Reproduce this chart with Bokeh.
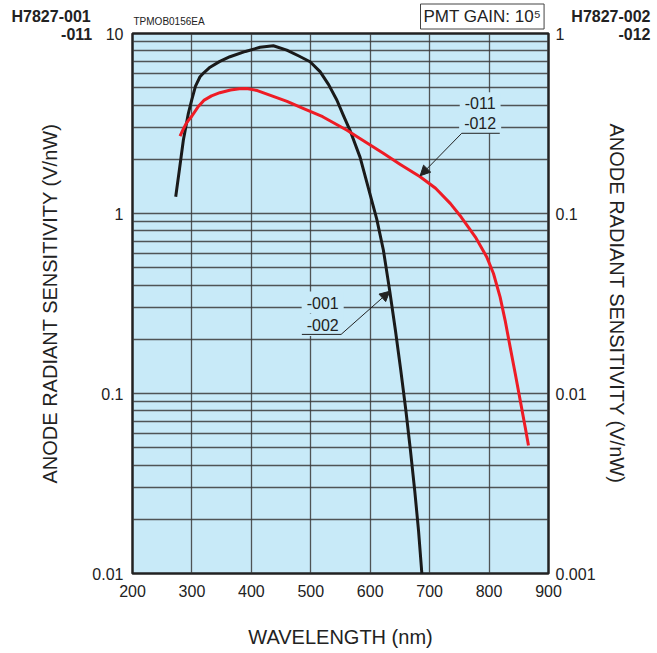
from bokeh.plotting import figure
from bokeh.models import (Range1d, LogScale, LogAxis, FixedTicker, CustomJSTickFormatter,
                          Label, Arrow, NormalHead, Title)
from bokeh.embed import file_html
from bokeh.resources import INLINE

# ---------------- data ----------------
# H7827-001 / -002 (black), left-axis units V/nW
wl_001 = [272.7, 278.8, 285.6, 294, 299.6, 306, 313.6, 320, 330.5, 347, 364, 390, 414.6, 437,
          459.6, 480, 498.8, 515.6, 530, 543.8, 555, 566, 583, 600, 611, 622.2, 632.7, 642.4,
          651.5, 660, 667.7, 674.9, 681.3, 686.9]
sens_001 = [1.24, 1.74, 2.56, 3.6, 4.27, 5.1, 5.75, 6.05, 6.5, 7.0, 7.43, 7.95, 8.38, 8.55,
            8.09, 7.5, 6.97, 6.14, 5.2, 4.27, 3.5, 2.9, 2.05, 1.27, 0.93, 0.625, 0.374, 0.2245,
            0.134, 0.0805, 0.0483, 0.0289, 0.0173, 0.01]
# H7827-011 / -012 (red), left-axis units V/nW
wl_011 = [280, 285, 290, 295, 300, 310, 320, 333, 347, 365, 380, 392, 410, 431, 460, 487, 520,
          545, 561, 580, 600, 622, 650, 684, 710, 735, 751, 777, 796, 807.4, 818.6, 827, 835.5,
          844, 852.4, 860.8, 866.3]
sens_011 = [2.69, 2.92, 3.15, 3.32, 3.48, 3.9, 4.25, 4.5, 4.69, 4.85, 4.93, 4.95, 4.82, 4.55,
            4.2, 3.84, 3.45, 3.1, 2.9, 2.64, 2.40, 2.16, 1.88, 1.60, 1.38, 1.135, 0.975, 0.74,
            0.574, 0.464, 0.343, 0.255, 0.181, 0.129, 0.0916, 0.065, 0.0514]

x_ticks = [200, 300, 400, 500, 600, 700, 800, 900]
left_ticks = [0.01, 0.1, 1, 10]
right_ticks = [0.001, 0.01, 0.1, 1]

FONT = "Liberation Sans"
BG = "#c8eaf8"
INK = "#222222"

p = figure(width=655, height=652, output_backend="svg", toolbar_location=None,
           x_range=Range1d(200, 900), y_range=Range1d(0.01, 10), y_axis_type="log",
           min_border_left=132, min_border_right=107, min_border_top=33, min_border_bottom=79)
p.background_fill_color = BG
p.border_fill_color = "white"
p.outline_line_color = INK
p.outline_line_width = 2.5

# grids
grid_vals = [m * 10.0 ** e for e in (-2, -1, 0) for m in range(1, 10)] + [10]
p.ygrid.ticker = FixedTicker(ticks=grid_vals)
p.xgrid.ticker = FixedTicker(ticks=x_ticks[1:-1])
for g in (p.xgrid, p.ygrid):
    g.grid_line_color = "#3a3a3a"
    g.grid_line_width = 1.3
    g.grid_line_alpha = 0.85
    g.minor_grid_line_color = None

fmt = CustomJSTickFormatter(code="return tick.toString();")

ya = p.yaxis[0]
ya.ticker = FixedTicker(ticks=left_ticks, minor_ticks=[])
ya.formatter = fmt
ya.axis_label = "ANODE RADIANT SENSITIVITY (V/nW)"

xa = p.xaxis[0]
xa.ticker = FixedTicker(ticks=x_ticks, minor_ticks=[])
xa.axis_label = "WAVELENGTH (nm)"

p.extra_y_ranges = {"right": Range1d(0.001, 1)}
p.extra_y_scales = {"right": LogScale()}
ra = LogAxis(y_range_name="right", ticker=FixedTicker(ticks=right_ticks, minor_ticks=[]),
             formatter=fmt, axis_label="ANODE RADIANT SENSITIVITY (V/nW)")
p.add_layout(ra, "right")

for ax in (ya, xa, ra):
    ax.axis_line_color = None
    ax.major_tick_line_color = None
    ax.minor_tick_line_color = None
    ax.major_tick_out = 0
    ax.major_tick_in = 0
    ax.minor_tick_out = 0
    ax.major_label_text_font = FONT
    ax.major_label_text_font_size = "16px"
    ax.major_label_text_color = INK
    ax.axis_label_text_font = FONT
    ax.axis_label_text_font_size = "20px"
    ax.axis_label_text_font_style = "normal"
    ax.axis_label_text_color = INK
ya.major_label_standoff = 9
ya.axis_label_standoff = 28
ra.major_label_standoff = 7
ra.axis_label_standoff = 7
xa.major_label_standoff = 11
xa.axis_label_standoff = 26

# curves
p.line(wl_001, sens_001, line_color="#1a1a1a", line_width=3, line_join="round")
p.line(wl_011, sens_011, line_color="#ee1c25", line_width=3, line_join="round")

# curve annotations
def tag(txt, x, y):
    p.add_layout(Label(x=x, y=y, text=txt, text_font=FONT, text_font_size="16px",
                       text_color=INK, text_align="center", text_baseline="middle",
                       background_fill_color=BG, padding=5))

tag("-011", 785, 4.1)
tag("-012", 785, 3.2)
tag("-001", 520, 0.32)
tag("-002", 520, 0.24)

p.add_layout(Arrow(x_start=818, y_start=2.79, x_end=754, y_end=2.79, end=None,
                   line_color=INK, line_width=1))
p.add_layout(Arrow(x_start=754, y_start=2.79, x_end=684, y_end=1.62,
                   end=NormalHead(size=10, fill_color=INK, line_color=INK),
                   line_color=INK, line_width=1))
p.add_layout(Arrow(x_start=485, y_start=0.213, x_end=551, y_end=0.213, end=None,
                   line_color=INK, line_width=1))
p.add_layout(Arrow(x_start=551, y_start=0.213, x_end=633, y_end=0.37,
                   end=NormalHead(size=10, fill_color=INK, line_color=INK),
                   line_color=INK, line_width=1))

# header texts: titles in the top panel (rows of controlled height)
H16, H10, H17 = 20.0, 13.5, 21.0   # estimated text box heights (+2)
PAD = 3

def row(txt, size_px, row_h, H, align="left", offset=0.0, style="bold", **kw):
    return Title(text=txt, align=align, vertical_align="middle", offset=offset,
                 standoff=row_h - H, text_font=FONT, text_font_size=size_px,
                 text_font_style=style, text_color=INK, **kw)

rows_top_down = [
    row(" ", "16px", 14.5, H16),
    row("H7827-001", "16px", 0, H16, "left", -121),
    row("H7827-002", "16px", 0, H16, "right", -102),
    row("PMT GAIN: 10\u2075", "17px", 0, H17 + 2 * PAD, "left", 288, style="normal",
        background_fill_color="white", border_line_color="#444444", border_line_width=1,
        padding=PAD),
    row(" ", "16px", 5.5, H16),
    row("TPMOB0156EA", "10px", 0, H10, "left", 1, style="normal"),
    row(" ", "16px", 13, H16),
    row("-011", "16px", 0, H16, "right", 456.3),
    row("-012", "16px", 0, H16, "right", -102),
]
p.above = list(reversed(rows_top_down))

open("out.html", "w").write(file_html(p, INLINE))
